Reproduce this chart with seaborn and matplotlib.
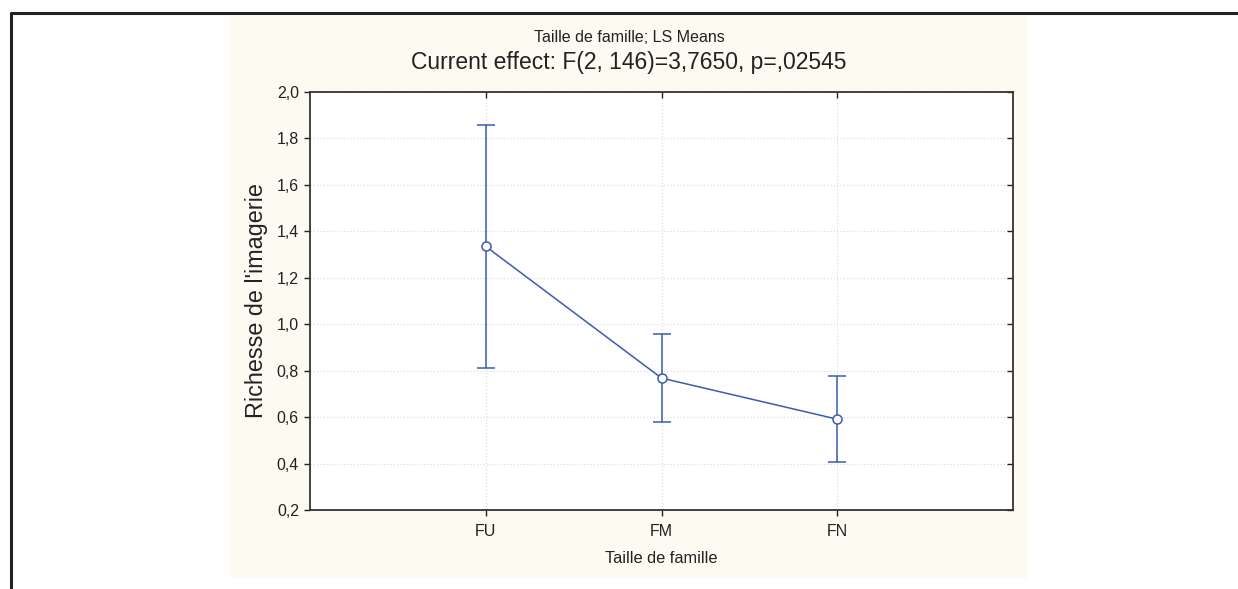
import numpy as np
import pandas as pd
import seaborn as sns
import matplotlib.pyplot as plt
from matplotlib.patches import Rectangle
from matplotlib.lines import Line2D

groups = ["FU", "FM", "FN"]
ls_means = [1.335, 0.768, 0.591]
ci_low = [0.810, 0.579, 0.405]
ci_high = [1.857, 0.957, 0.777]
y_ticks = [0.2, 0.4, 0.6, 0.8, 1.0, 1.2, 1.4, 1.6, 1.8, 2.0]

sns.set_style("white")
plt.rcParams['font.family'] = ['Liberation Sans', 'DejaVu Sans']

line_col = "#3a5bb0"
text_col = "#222222"

fig = plt.figure(figsize=(12.38, 5.89), dpi=100)
W, H = 1238, 589

# cream background panel behind the plot
fig.patches.append(Rectangle((230 / W, 1 - 578 / H), (1028 - 230) / W, (578 - 16) / H,
                             transform=fig.transFigure, facecolor="#fdfaf2",
                             edgecolor="none", zorder=-5))
# black frame (left and top)
fig.lines.append(Line2D([11 / W, 11 / W], [0, 1 - 13 / H], transform=fig.transFigure,
                        color="#222222", lw=2.2))
fig.lines.append(Line2D([11 / W, 1], [1 - 13 / H, 1 - 13 / H], transform=fig.transFigure,
                        color="#222222", lw=2.2))

ax = fig.add_axes([310 / W, 1 - 510 / H, (1013 - 310) / W, (510 - 92) / H])
ax.set_zorder(2)
ax.set_facecolor("white")

df = pd.DataFrame({"groupe": groups, "moyenne": ls_means})
xpos = np.arange(len(groups))
lower = np.array(ls_means) - np.array(ci_low)
upper = np.array(ci_high) - np.array(ls_means)

ax.errorbar(xpos, ls_means, yerr=[lower, upper], fmt="none", ecolor=line_col,
            elinewidth=1.1, capsize=6.5, capthick=1.1, zorder=3)
sns.lineplot(data=df, x="groupe", y="moyenne", sort=False, color=line_col, lw=1.1,
             marker="o", markersize=6.5, markerfacecolor="white",
             markeredgecolor=line_col, markeredgewidth=1.1, ax=ax, zorder=4)

ax.set_xlim(-1, 3)
ax.set_ylim(0.2, 2.0)
ax.set_xticks(xpos)
ax.set_xticklabels(groups)
ax.set_yticks(y_ticks)
ax.set_yticklabels([f"{v:.1f}".replace(".", ",") for v in y_ticks])

ax.grid(True, color="#d8d8d8", linestyle=(0, (1, 2)), linewidth=0.8)
for s in ax.spines.values():
    s.set_color("#333333")
    s.set_linewidth(1.3)

ax.tick_params(axis="both", labelsize=11.5, colors=text_col, length=4, width=1)
ax.tick_params(axis="y", left=True, right=True, direction="out", pad=4)
ax.tick_params(axis="x", bottom=True, top=True, direction="out", pad=6)
for t in ax.yaxis.get_ticklines()[1::2]:
    t.set_marker(0)
for t in ax.xaxis.get_ticklines()[1::2]:
    t.set_marker(3)

ax.set_xlabel("Taille de famille", fontsize=11.8, color=text_col, labelpad=9)
ax.set_ylabel("Richesse de l'imagerie", fontsize=16.8, color=text_col, labelpad=6)

fig.text(629 / W, 1 - 37 / H, "Taille de famille; LS Means", ha="center", va="center",
         fontsize=11.5, color=text_col)
fig.text(629 / W, 1 - 63 / H, "Current effect: F(2, 146)=3,7650, p=,02545", ha="center",
         va="center", fontsize=16.5, color=text_col)

fig.savefig("out.png", dpi=100)
